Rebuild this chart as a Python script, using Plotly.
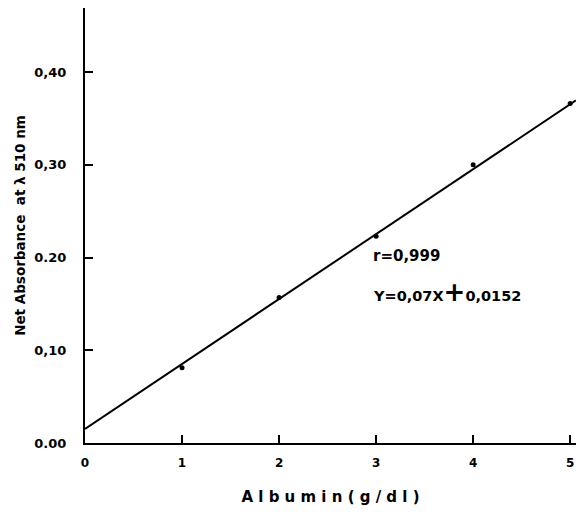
import plotly.graph_objects as go

albumin = [1, 2, 3, 4, 5]
absorbance = [0.081, 0.157, 0.223, 0.300, 0.366]
slope = 0.07
intercept = 0.0152
fit_x = [0, 5.06]
fit_y = [slope * x + intercept for x in fit_x]

x_ticks = [0, 1, 2, 3, 4, 5]
x_ticklabels = ["0", "1", "2", "3", "4", "5"]
y_ticks = [0.0, 0.1, 0.2, 0.3, 0.4]
y_ticklabels = ["0.00", "0,10", "0.20", "0,30", "0,40"]

FONT = "DejaVu Sans"

fig = go.Figure()
fig.add_trace(go.Scatter(x=fit_x, y=fit_y, mode="lines",
                         line=dict(color="black", width=2), hoverinfo="skip",
                         showlegend=False, cliponaxis=False))
fig.add_trace(go.Scatter(x=albumin, y=absorbance, mode="markers",
                         marker=dict(color="black", size=5), showlegend=False,
                         cliponaxis=False))

fig.add_annotation(x=2.95, y=0.202, xref="x", yref="y", text="<b>r=0,999</b>",
                   showarrow=False, xanchor="left", yanchor="middle",
                   font=dict(family=FONT, size=15, color="black"))
fig.add_annotation(x=2.95, y=0.163, xref="x", yref="y",
                   text="<b>Y=0,07X<span style='font-size:26px'>+</span>0,0152</b>",
                   showarrow=False, xanchor="left", yanchor="middle",
                   font=dict(family=FONT, size=14.5, color="black"))

fig.update_xaxes(range=[0, 5.06], tickvals=x_ticks,
                 ticktext=["<b>%s</b>" % t for t in x_ticklabels],
                 showline=True, linecolor="black", linewidth=2,
                 ticks="inside", ticklen=8, tickwidth=1.5, tickcolor="black",
                 showgrid=False, zeroline=False, automargin=False,
                 ticklabelstandoff=8,
                 tickfont=dict(family=FONT, size=12, color="black"),
                 title=dict(text="<b>A l b u m i n ( g / d l )</b>",
                            font=dict(family=FONT, size=15, color="black"),
                            standoff=22))
fig.update_yaxes(range=[0, 0.469], tickvals=y_ticks,
                 ticktext=["<b>%s</b>" % t for t in y_ticklabels],
                 showline=True, linecolor="black", linewidth=2,
                 ticks="inside", ticklen=8, tickwidth=1.5, tickcolor="black",
                 showgrid=False, zeroline=False, automargin=False,
                 ticklabelstandoff=14,
                 tickfont=dict(family=FONT, size=13, color="black"),
                 title=dict(text="<b>Net Absorbance  at λ 510 nm</b>",
                            font=dict(family=FONT, size=13.5, color="black"),
                            standoff=6))

fig.update_layout(width=576, height=519, margin=dict(l=85, r=0, t=8, b=76),
                  plot_bgcolor="white", paper_bgcolor="white")

fig.write_html("out.html", config={"displayModeBar": False},
               post_script="document.body.style.margin='0';"
                           "document.body.style.overflow='hidden';")
